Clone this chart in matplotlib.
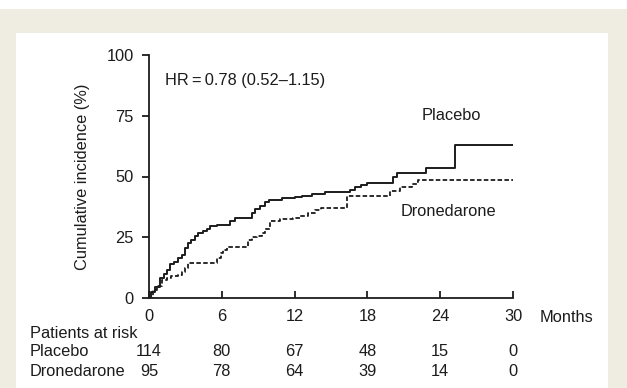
import numpy as np
import matplotlib.pyplot as plt
from matplotlib.patches import Rectangle

plt.rcParams['font.family'] = ['Liberation Sans', 'DejaVu Sans']

# step times (months) and cumulative incidence (%)
placebo_t = [0, 0.2, 0.5, 0.9, 1.2, 1.45, 1.7, 2.1, 2.4, 2.7, 3.0, 3.2, 3.5, 3.8,
             4.05, 4.45, 4.75, 5.0, 5.6, 6.7, 7.1, 8.5, 8.75, 9.15, 9.55, 9.85,
             10.95, 12.0, 12.6, 13.4, 14.5, 16.6, 17.0, 17.5, 17.95, 20.15, 20.4,
             22.8, 25.2, 30]
placebo_y = [0, 2.5, 4.7, 8.2, 10.0, 11.6, 14.0, 15.0, 16.5, 17.8, 20.6, 22.7, 24.0,
             25.4, 26.9, 27.5, 28.5, 29.5, 29.9, 31.7, 33.1, 35.1, 36.5, 37.9, 39.6,
             40.4, 41.0, 41.4, 42.0, 42.7, 43.7, 44.5, 45.5, 46.5, 47.4, 49.9, 51.3,
             53.5, 62.8, 62.8]

dron_t = [0, 0.35, 0.7, 1.05, 1.45, 1.85, 2.4, 2.7, 3.0, 3.25, 5.6, 5.9, 6.1, 6.4,
          8.2, 8.45, 8.9, 9.3, 9.55, 9.95, 10.8, 11.5, 11.9, 12.45, 13.1, 13.7,
          14.2, 16.3, 19.9, 20.7, 21.65, 22.1, 22.2, 30]
dron_y = [0, 3.3, 5.0, 7.5, 8.2, 8.9, 9.5, 10.9, 12.3, 14.6, 16.5, 18.5, 19.9, 21.0,
          24.0, 25.2, 25.5, 26.8, 28.2, 31.7, 32.4, 32.7, 33.1, 33.8, 35.1, 36.3,
          37.2, 42.0, 43.9, 45.5, 46.9, 47.6, 48.5, 48.5]

xticks = [0, 6, 12, 18, 24, 30]
yticks = [0, 25, 50, 75, 100]
risk_placebo = [114, 80, 67, 48, 15, 0]
risk_dron = [95, 78, 64, 39, 14, 0]

ink = '#1c1c1c'
beige = '#efece2'
fs = 11.8

fig = plt.figure(figsize=(6.27, 3.88), dpi=100, facecolor=beige)
W, H = 627, 388
fig.patches.append(Rectangle((0, 1 - 9 / H), 1, 9 / H, transform=fig.transFigure,
                             facecolor='white', edgecolor='none', zorder=-10))
fig.patches.append(Rectangle((16 / W, 0), (608 - 16) / W, 1 - 33 / H,
                             transform=fig.transFigure, facecolor='white',
                             edgecolor='none', zorder=-10))

ax = fig.add_axes([149 / W, 1 - 298 / H, (513 - 149) / W, (298 - 55) / H])
ax.set_facecolor('none')

ax.step(placebo_t, placebo_y, where='post', color=ink, lw=1.4)
ax.step(dron_t, dron_y, where='post', color=ink, lw=1.3, linestyle=(0, (2.5, 1.3)))

ax.set_xlim(0, 30)
ax.set_ylim(0, 100)
ax.set_xticks(xticks)
ax.set_yticks(yticks)
for s in ['top', 'right']:
    ax.spines[s].set_visible(False)
for s in ['left', 'bottom']:
    ax.spines[s].set_linewidth(1.3)
    ax.spines[s].set_color(ink)
ax.tick_params(axis='y', direction='out', length=5, width=1.3, color=ink,
               labelsize=fs, labelcolor=ink, pad=6)
ax.tick_params(axis='x', direction='in', length=5, width=1.3, color=ink,
               labelsize=fs, labelcolor=ink, pad=8)
ax.set_ylabel('Cumulative incidence (%)', fontsize=fs, color=ink, labelpad=12)

ax.text(1.3, 89.5, 'HR\u2009=\u20090.78 (0.52\u20131.15)', fontsize=fs, color=ink,
        va='center')
ax.text(24.9, 75.3, 'Placebo', fontsize=fs, color=ink, ha='center', va='center')
ax.text(24.65, 35.8, 'Dronedarone', fontsize=fs, color=ink, ha='center', va='center')

tr = ax.get_xaxis_transform()
ax.text(32.2, (298 - 318) / 243, 'Months', transform=tr, fontsize=fs, color=ink,
        va='center', ha='left')
fig.text(30 / W, 1 - 333 / H, 'Patients at risk', fontsize=fs, color=ink, va='center')
fig.text(30 / W, 1 - 351 / H, 'Placebo', fontsize=fs, color=ink, va='center')
fig.text(30 / W, 1 - 372 / H, 'Dronedarone', fontsize=fs, color=ink, va='center')
for x, a, b in zip(xticks, risk_placebo, risk_dron):
    ax.text(x, (298 - 351) / 243, str(a), transform=tr, fontsize=fs, color=ink,
            ha='center', va='center', clip_on=False)
    ax.text(x, (298 - 372) / 243, str(b), transform=tr, fontsize=fs, color=ink,
            ha='center', va='center', clip_on=False)

fig.savefig('out.png', dpi=100, facecolor=beige)
